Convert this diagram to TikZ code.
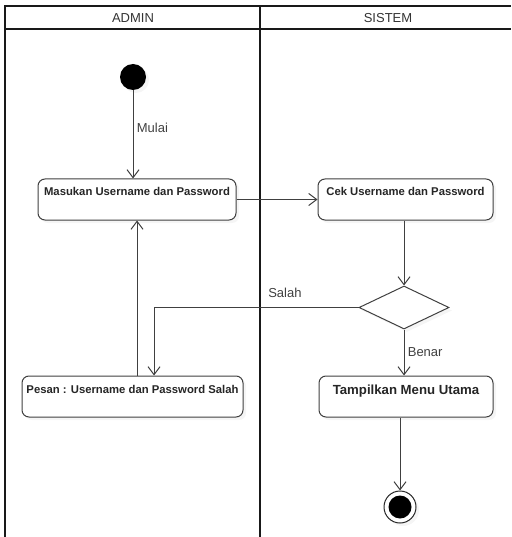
\documentclass[tikz,border=0pt]{standalone}
\usepackage{fontspec}
\setmainfont{Liberation Sans}
\usetikzlibrary{arrows.meta, positioning, shapes.geometric, shadows}

\begin{document}
\begin{tikzpicture}[
    x=1pt, y=-1pt,
    font=\fontsize{13}{15}\selectfont,
    arr/.style={-{Straight Barb[length=8pt, width=12pt]}, draw=black!75, line width=1pt},
    lane/.style={line width=2.4pt, draw=black!90},
    bayang/.style={drop shadow={shadow xshift=3pt, shadow yshift=-3pt, fill=black!8}},
    box/.style={
        rectangle, rounded corners=7pt, draw=black!75, line width=1pt,
        fill=white, bayang, text=black!85,
        font=\fontsize{11.3}{13}\selectfont\bfseries,
        inner xsep=0pt, inner ysep=0pt, text height=17pt, text depth=24pt
    },
    decision/.style={
        diamond, draw=black!75, line width=1pt, fill=white, bayang,
        minimum width=90pt, minimum height=43pt, inner sep=0pt
    },
    mulai/.style={circle, fill=black, bayang, minimum size=26pt, inner sep=0pt},
    selesai/.style={
        circle, draw=black!85, line width=1pt, fill=white, bayang,
        minimum size=32pt, inner sep=0pt,
        path picture={\fill[black] (path picture bounding box.center) circle (11.5pt);}
    },
    ket/.style={text=black!75},
]
    \useasboundingbox (0,0) rectangle (511,537);

    % Swimlane
    \draw[lane] (5,537) -- (5,6) -- (511,6);
    \draw[lane] (5,29) -- (511,29);
    \draw[lane] (260,6) -- (260,537);
    \node[text=black!80] (admin)  at (133,18)   {ADMIN};
    \node[text=black!80] (sistem) at (388,18)   {SISTEM};

    % Aktivitas
    \node[mulai]                       (start)  at (133,77)    {};
    \node[box, minimum width=198pt]    (masuk)  at (137,199.5) {Masukan Username dan Password};
    \node[box, minimum width=175pt, right=81pt of masuk] (cek) {Cek Username dan Password};
    \node[decision]                    (dec)    at (404,307.5) {};
    \node[box, minimum width=221pt]    (pesan)  at (132.5,396.5) {Pesan : Username dan Password Salah};
    \node[box, minimum width=174pt, font=\fontsize{13.2}{15}\selectfont\bfseries,
          text height=18pt, text depth=23pt, right=75pt of pesan] (tampil) {Tampilkan Menu Utama};
    \node[selesai]                     (akhir)  at (400,507)   {};

    \draw[arr] (start) -- node[ket, right, pos=0.43] {Mulai} (start |- masuk.north);
    \draw[arr] (masuk) -- (cek);
    \draw[arr] (cek.south -| dec) -- (dec);
    \draw[arr] (dec) -- node[ket, right, pos=0.5] {Benar} (tampil.north -| dec);
    \draw[arr] (tampil.south -| akhir) -- (akhir);

    % Jika salah, kembali ke admin
    \coordinate (belok) at (154,307.5);
    \draw[arr] (dec.west) -- node[ket, above=6pt, pos=0.36] {Salah} (belok)
        -- (belok |- pesan.north);
    \draw[arr] (pesan.north -| masuk.south) -- (masuk.south);

\end{tikzpicture}
\end{document}
